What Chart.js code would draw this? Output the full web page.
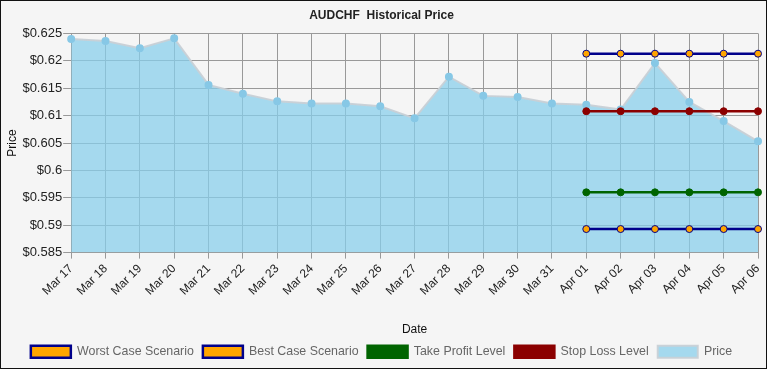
<!DOCTYPE html>
<html>
<head>
<meta charset="utf-8">
<script src="https://cdn.jsdelivr.net/npm/chart.js@4/dist/chart.umd.min.js"></script>
<style>
html,body{margin:0;padding:0;background:#f5f5f5;}
#wrap{position:relative;width:767px;height:369px;box-sizing:border-box;border:1px solid #111;background:#f5f5f5;}
canvas{display:block;}
</style>
</head>
<body>
<div id="wrap"><canvas id="c" width="765" height="367"></canvas></div>
<script>
const categories = ["Mar 17","Mar 18","Mar 19","Mar 20","Mar 21","Mar 22","Mar 23","Mar 24","Mar 25","Mar 26","Mar 27","Mar 28","Mar 29","Mar 30","Mar 31","Apr 01","Apr 02","Apr 03","Apr 04","Apr 05","Apr 06"];
const priceValues = [0.6240,0.6236,0.6223,0.6241,0.6156,0.6140,0.6126,0.6122,0.6122,0.6117,0.6095,0.6171,0.6136,0.6134,0.6122,0.6120,0.6111,0.6196,0.6125,0.6090,0.6053];
const worstCase = [null,null,null,null,null,null,null,null,null,null,null,null,null,null,null,0.5893,0.5893,0.5893,0.5893,0.5893,0.5893];
const bestCase = [null,null,null,null,null,null,null,null,null,null,null,null,null,null,null,0.6213,0.6213,0.6213,0.6213,0.6213,0.6213];
const takeProfit = [null,null,null,null,null,null,null,null,null,null,null,null,null,null,null,0.5960,0.5960,0.5960,0.5960,0.5960,0.5960];
const stopLoss = [null,null,null,null,null,null,null,null,null,null,null,null,null,null,null,0.6108,0.6108,0.6108,0.6108,0.6108,0.6108];
const yTicks = [0.585,0.59,0.595,0.6,0.605,0.61,0.615,0.62,0.625];

Chart.defaults.font.family = "'Liberation Sans', Arial, sans-serif";
Chart.defaults.font.size = 12;

function lvl(label, data, line, pointFill){
  return {label, data, borderColor: line, backgroundColor: pointFill,
    pointBackgroundColor: pointFill, pointBorderColor: line, pointBorderWidth: 1,
    borderWidth: 2.5, pointRadius: 3.5, fill: false, spanGaps: false};
}

new Chart(document.getElementById('c'), {
  type: 'line',
  data: {
    labels: categories,
    datasets: [
      lvl('Worst Case Scenario', worstCase, '#00008B', '#FFA500'),
      lvl('Best Case Scenario', bestCase, '#00008B', '#FFA500'),
      lvl('Take Profit Level', takeProfit, '#006400', '#006400'),
      lvl('Stop Loss Level', stopLoss, '#8B0000', '#8B0000'),
      {label: 'Price', data: priceValues, borderColor: 'rgba(200,208,214,0.95)', backgroundColor: 'rgba(135,206,235,0.72)',
       pointBackgroundColor: 'rgba(135,200,230,1)', pointBorderColor: 'rgba(135,200,230,1)', pointRadius: 3,
       borderWidth: 2, fill: 'start', tension: 0}
    ]
  },
  options: {
    responsive: false,
    animation: false,
    devicePixelRatio: 1,
    layout: {padding: {left: 4, right: 8, top: 0, bottom: 0}},
    plugins: {
      title: {display: true, text: 'AUDCHF  Historical Price', color: '#222', font: {size: 12, weight: 'bold'}, padding: {top: 7, bottom: 11}},
      legend: {position: 'bottom', labels: {boxWidth: 40, boxHeight: 12, color: '#666', font: {size: 12.4}, padding: 9}},
      tooltip: {enabled: false}
    },
    scales: {
      x: {
        offset: false,
        afterFit: (s) => { s.paddingRight = 0; },
        grid: {color: '#999', lineWidth: 1, tickLength: 6, drawTicks: true},
        border: {color: '#999'},
        ticks: {color: '#222', maxRotation: 45, minRotation: 45, autoSkip: false, font: {size: 12}},
        title: {display: true, text: 'Date', color: '#111', font: {size: 12}, padding: {top: 21, bottom: 0}}
      },
      y: {
        min: 0.585, max: 0.625,
        afterBuildTicks: (axis) => { axis.ticks = yTicks.map(v => ({value: v})); },
        grid: {color: '#999', lineWidth: 1, tickLength: 8},
        border: {color: '#999'},
        ticks: {color: '#222', font: {size: 13}, padding: 1, callback: (v) => '$' + parseFloat(Number(v).toFixed(3))},
        title: {display: true, text: 'Price', color: '#111', font: {size: 12}, padding: {top: 0, bottom: 2}}
      }
    }
  }
});
</script>
</body>
</html>
